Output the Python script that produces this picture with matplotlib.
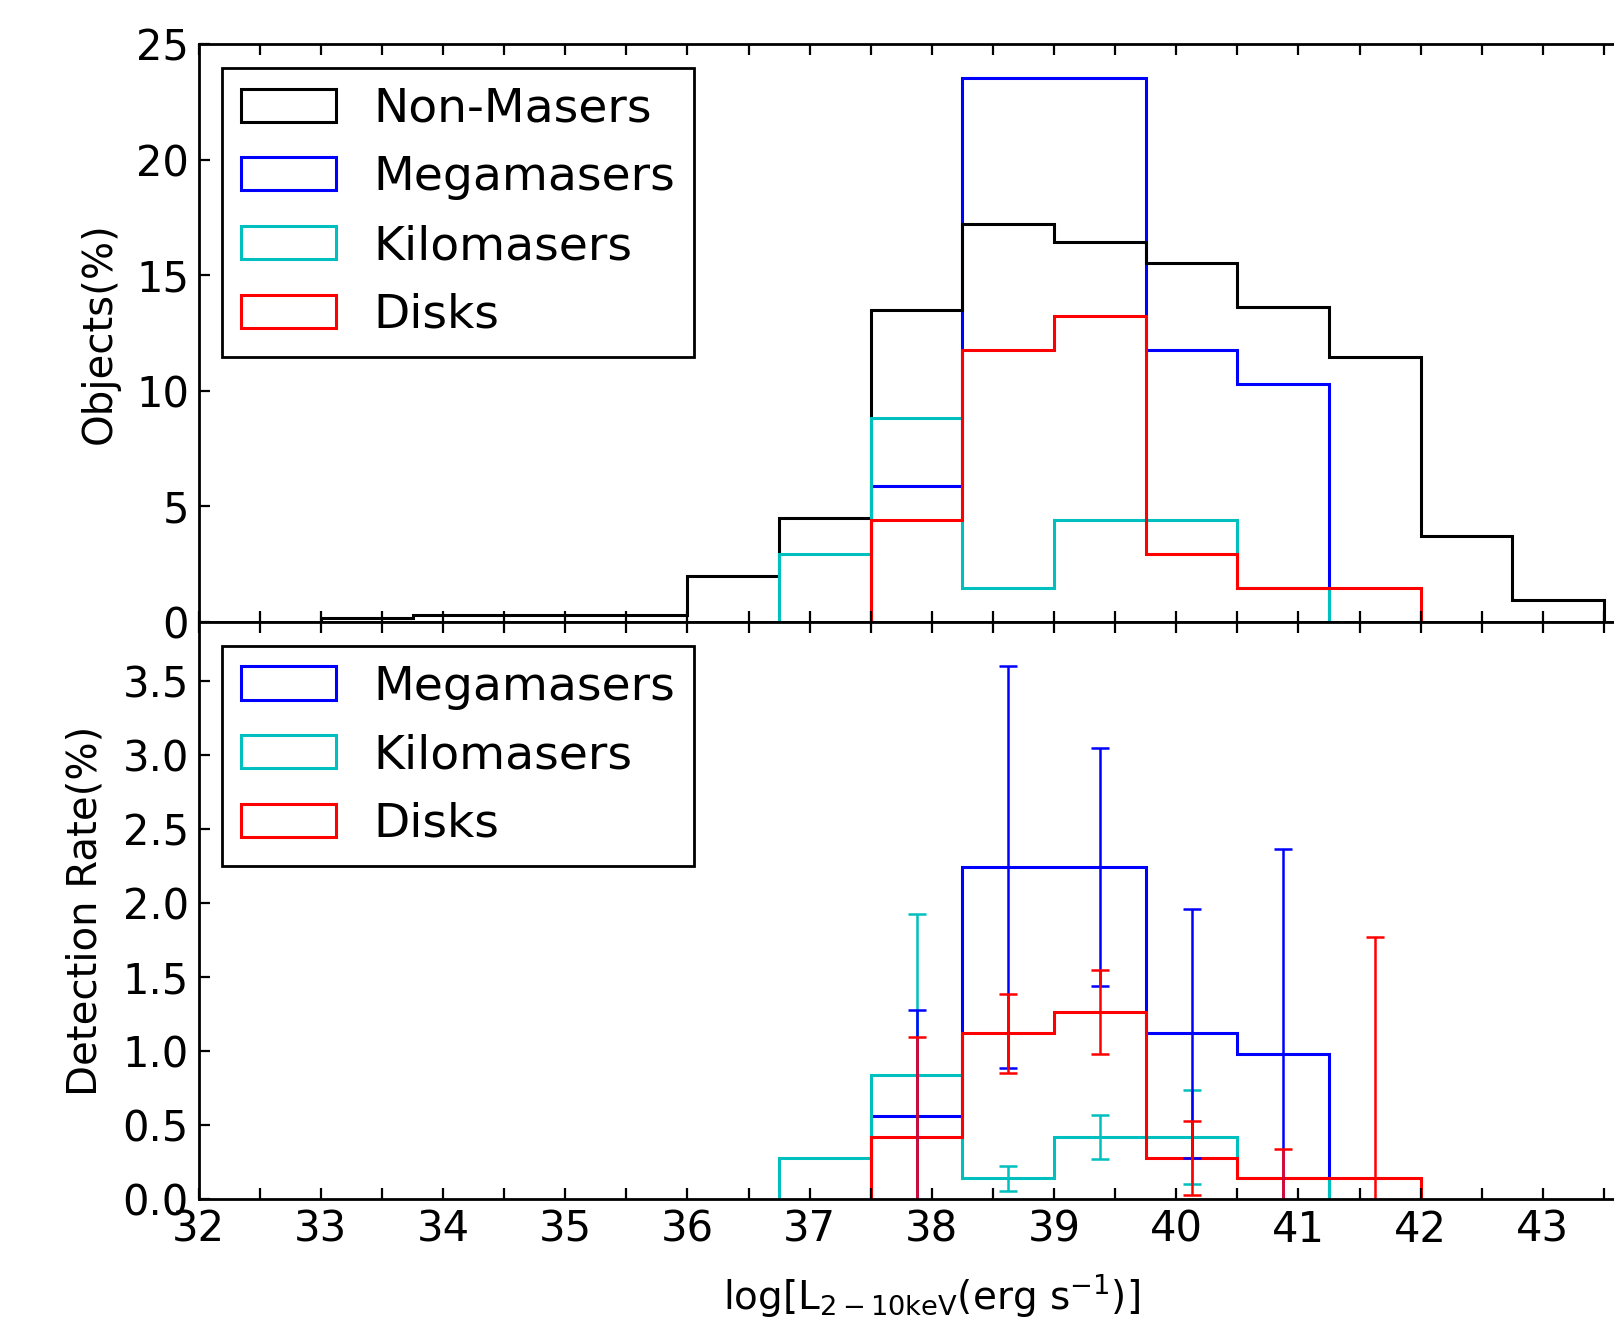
import matplotlib
matplotlib.use('Agg')
import matplotlib.pyplot as plt
import matplotlib.patches as mpatches
from matplotlib.ticker import MultipleLocator, FormatStrFormatter

plt.rcParams['font.family'] = ['DejaVu Sans']
plt.rcParams['mathtext.fontset'] = 'dejavusans'
plt.rcParams['mathtext.default'] = 'regular'
plt.rcParams['axes.linewidth'] = 1.0

# Top panel: fraction of objects per luminosity bin (%)
nonmaser_edges = [33.0, 33.75, 34.5, 35.25, 36.0, 36.75, 37.5, 38.25, 39.0,
                  39.75, 40.5, 41.25, 42.0, 42.75, 43.5]
nonmaser_pct = [0.17, 0.32, 0.32, 0.32, 1.99, 4.48, 13.48, 17.21, 16.45,
                15.52, 13.65, 11.45, 3.7, 0.94]

mega_edges = [37.5, 38.25, 39.0, 39.75, 40.5, 41.25]
mega_pct = [5.88, 23.53, 23.53, 11.76, 10.29]

kilo_edges = [36.75, 37.5, 38.25, 39.0, 39.75, 40.5, 41.25]
kilo_pct = [2.94, 8.82, 1.47, 4.41, 4.41, 1.47]

disk_edges = [37.5, 38.25, 39.0, 39.75, 40.5, 41.25, 42.0]
disk_pct = [4.41, 11.76, 13.24, 2.94, 1.47, 1.47]

# Bottom panel: detection rates (%)
mega_rate = [0.561, 2.245, 2.245, 1.12, 0.981]
kilo_rate = [0.278, 0.84, 0.139, 0.42, 0.42, 0.139]
disk_rate = [0.42, 1.12, 1.262, 0.278, 0.139, 0.139]

# Error bars at bin centres
mega_err_x = [37.875, 38.625, 39.375, 40.125, 40.875]
mega_err_y = [0.561, 2.245, 2.245, 1.12, 0.981]
mega_err = [0.72, 1.36, 0.805, 0.84, 1.385]

kilo_err_x = [37.875, 38.625, 39.375, 40.125]
kilo_err_y = [0.84, 0.139, 0.42, 0.42]
kilo_err = [1.085, 0.087, 0.15, 0.315]

disk_err_x = [37.875, 38.625, 39.375, 40.125, 40.875, 41.625]
disk_err_y = [0.42, 1.12, 1.262, 0.278, 0.139, 0.139]
disk_err = [0.675, 0.265, 0.283, 0.25, 0.2, 1.635]

colors = {'non': 'k', 'mega': 'b', 'kilo': 'c', 'disk': 'r'}
hist_lw = 1.1
err_lw = 0.9
tick_fs = 15
legend_fs = 17
label_fs = 14.5


def style_axes(ax):
    ax.set_xlim(32, 44)
    ax.xaxis.set_major_locator(MultipleLocator(1))
    ax.xaxis.set_minor_locator(MultipleLocator(0.5))
    ax.tick_params(which='both', direction='in', top=True, right=True,
                   length=4, width=0.8, labelsize=tick_fs)
    ax.tick_params(axis='y', which='minor', length=0)


def box_handle(c):
    return mpatches.Patch(facecolor='none', edgecolor=c, lw=hist_lw)


def add_legend(ax, keys, labels):
    leg = ax.legend([box_handle(colors[k]) for k in keys], labels,
                    loc='upper left', fontsize=legend_fs, fancybox=False,
                    framealpha=1, edgecolor='k', borderpad=0.4,
                    labelspacing=0.5, handlelength=2, handletextpad=0.8)
    leg.get_frame().set_linewidth(1.0)


fig = plt.figure(figsize=(8.07, 6.61), dpi=200)
ax1 = fig.add_axes([0.1231, 0.5295, 0.9085, 0.437])
ax2 = fig.add_axes([0.1231, 0.093, 0.9085, 0.4365])

# Top panel
ax1.stairs(mega_pct, mega_edges, color=colors['mega'], lw=hist_lw)
ax1.stairs(nonmaser_pct, nonmaser_edges, color=colors['non'], lw=hist_lw)
ax1.stairs(kilo_pct, kilo_edges, color=colors['kilo'], lw=hist_lw)
ax1.stairs(disk_pct, disk_edges, color=colors['disk'], lw=hist_lw)
style_axes(ax1)
ax1.set_ylim(0, 25)
ax1.yaxis.set_major_locator(MultipleLocator(5))
ax1.tick_params(labelbottom=False)
ax1.set_ylabel('Objects(%)', fontsize=label_fs, labelpad=6)
add_legend(ax1, ['non', 'mega', 'kilo', 'disk'],
           ['Non-Masers', 'Megamasers', 'Kilomasers', 'Disks'])

# Bottom panel
ax2.stairs(mega_rate, mega_edges, color=colors['mega'], lw=hist_lw)
ax2.stairs(kilo_rate, kilo_edges, color=colors['kilo'], lw=hist_lw)
ax2.stairs(disk_rate, disk_edges, color=colors['disk'], lw=hist_lw)
ax2.errorbar(kilo_err_x, kilo_err_y, yerr=kilo_err, fmt='none', ecolor=colors['kilo'],
             elinewidth=err_lw, capsize=3.3, capthick=err_lw)
ax2.errorbar(mega_err_x, mega_err_y, yerr=mega_err, fmt='none', ecolor=colors['mega'],
             elinewidth=err_lw, capsize=3.3, capthick=err_lw)
ax2.errorbar(disk_err_x, disk_err_y, yerr=disk_err, fmt='none', ecolor=colors['disk'],
             elinewidth=err_lw, capsize=3.3, capthick=err_lw)
style_axes(ax2)
ax2.set_ylim(0, 3.9)
ax2.yaxis.set_major_locator(MultipleLocator(0.5))
ax2.yaxis.set_major_formatter(FormatStrFormatter('%.1f'))
ax2.set_ylabel('Detection Rate(%)', fontsize=label_fs, labelpad=6)
ax2.set_xlabel(r'log[L$_{2-10keV}$(erg s$^{-1}$)]', fontsize=14, labelpad=7.5)
add_legend(ax2, ['mega', 'kilo', 'disk'], ['Megamasers', 'Kilomasers', 'Disks'])

fig.savefig('out.png', dpi=200)
